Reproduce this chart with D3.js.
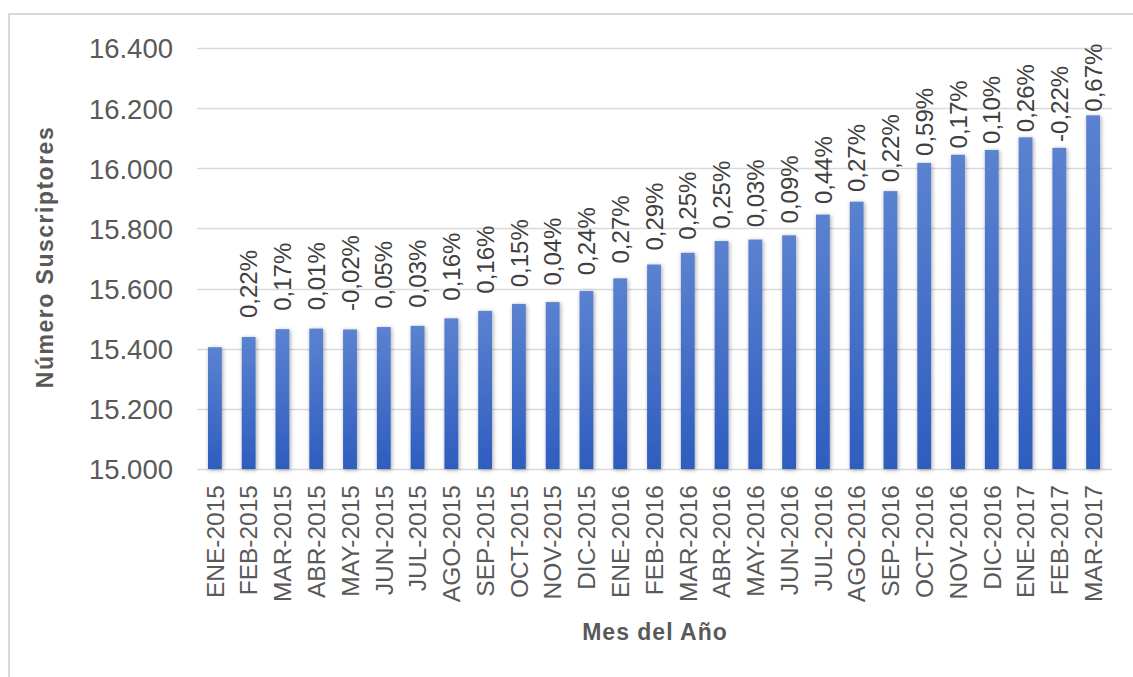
<html>
  <head>
    <meta charset="utf-8">
    <script src="https://d3js.org/d3.v7.min.js"></script>
    <style>
      body { margin: 0; background: #fff; }
    </style>
  </head>
  <body>
    <script>
      var w = 1133;
      var h = 677;

      // datos: mes, suscriptores y variación mensual
      var months = ["ENE-2015","FEB-2015","MAR-2015","ABR-2015","MAY-2015","JUN-2015","JUL-2015",
        "AGO-2015","SEP-2015","OCT-2015","NOV-2015","DIC-2015","ENE-2016","FEB-2016","MAR-2016",
        "ABR-2016","MAY-2016","JUN-2016","JUL-2016","AGO-2016","SEP-2016","OCT-2016","NOV-2016",
        "DIC-2016","ENE-2017","FEB-2017","MAR-2017"];
      var subscribers = [15405,15439,15465,15467,15464,15472,15476,15501,15526,15549,15555,15592,
        15634,15680,15719,15758,15763,15777,15846,15889,15924,16018,16045,16061,16103,16068,16176];
      var changes = ["","0,22%","0,17%","0,01%","-0,02%","0,05%","0,03%","0,16%","0,16%","0,15%",
        "0,04%","0,24%","0,27%","0,29%","0,25%","0,25%","0,03%","0,09%","0,44%","0,27%","0,22%",
        "0,59%","0,17%","0,10%","0,26%","-0,22%","0,67%"];
      var yTicks = [15000,15200,15400,15600,15800,16000,16200,16400];

      var svg = d3.select("body").append("svg")
        .attr("width", w)
        .attr("height", h);

      var defs = svg.append("defs");
      var grad = defs.append("linearGradient")
        .attr("id", "barGrad")
        .attr("x1", 0).attr("y1", 0).attr("x2", 0).attr("y2", 1);
      grad.append("stop").attr("offset", "0%").attr("stop-color", "#5b82d0");
      grad.append("stop").attr("offset", "100%").attr("stop-color", "#2e5dbf");

      var shadow = defs.append("filter")
        .attr("id", "shadow")
        .attr("x", "-60%").attr("y", "-10%")
        .attr("width", "220%").attr("height", "120%");
      shadow.append("feDropShadow")
        .attr("dx", 1).attr("dy", 1)
        .attr("stdDeviation", 2.2)
        .attr("flood-color", "#000")
        .attr("flood-opacity", 0.35);

      // marco
      svg.append("rect")
        .attr("x", 9).attr("y", 14)
        .attr("width", 1300).attr("height", 800)
        .attr("fill", "none")
        .attr("stroke", "#d9d9d9")
        .attr("stroke-width", 2);

      var x = d3.scaleBand()
        .domain(months)
        .range([198, 1110])
        .paddingInner(0.59)
        .paddingOuter(0.295);

      var y = d3.scaleLinear()
        .domain([15000, 16400])
        .range([469, 48]);

      // escala de posición de etiquetas (algo más comprimida que la de barras)
      var yLabel = d3.scaleLinear()
        .domain([15000, 16400])
        .range([441, 49]);

      // líneas de cuadrícula
      svg.selectAll(".grid")
        .data(yTicks)
        .enter()
        .append("line")
        .attr("class", "grid")
        .attr("x1", 197)
        .attr("x2", 1112)
        .attr("y1", function(d){ return Math.round(y(d)) + 0.5; })
        .attr("y2", function(d){ return Math.round(y(d)) + 0.5; })
        .attr("stroke", "#d9d9d9")
        .attr("stroke-width", 1.3);

      // eje y
      var yAxis = svg.append("g")
        .attr("transform", "translate(173,0)")
        .call(d3.axisLeft(y).tickValues(yTicks).tickSize(0).tickPadding(0)
          .tickFormat(function(d){ return d3.format(",")(d).replace(",", "."); }));
      yAxis.select(".domain").remove();
      yAxis.selectAll("text")
        .attr("font-family", "Liberation Sans, Arial, sans-serif")
        .attr("font-size", 27.5)
        .attr("fill", "#595959")
        .attr("dy", "0.36em");

      // barras
      svg.selectAll(".bar")
        .data(subscribers)
        .enter()
        .append("rect")
        .attr("class", "bar")
        .attr("x", function(d, i){ return x(months[i]); })
        .attr("y", function(d){ return y(d); })
        .attr("width", x.bandwidth())
        .attr("height", function(d){ return y(15000) - y(d); })
        .attr("fill", "url(#barGrad)")
        .attr("filter", "url(#shadow)");

      // etiquetas de variación
      svg.selectAll(".pct")
        .data(subscribers)
        .enter()
        .append("text")
        .attr("class", "pct")
        .attr("transform", function(d, i){
          return "translate(" + (x(months[i]) + x.bandwidth() / 2) + "," + yLabel(d) + ") rotate(-90)";
        })
        .attr("dy", "0.36em")
        .attr("font-family", "Liberation Sans, Arial, sans-serif")
        .attr("font-size", 24)
        .attr("fill", "#404040")
        .text(function(d, i){ return changes[i]; });

      // eje x
      var xAxis = svg.append("g")
        .attr("transform", "translate(0,485)")
        .call(d3.axisBottom(x).tickSize(0).tickPadding(0));
      xAxis.select(".domain").remove();
      xAxis.selectAll("text")
        .attr("font-family", "Liberation Sans, Arial, sans-serif")
        .attr("font-size", 24.5)
        .attr("fill", "#595959")
        .attr("text-anchor", "end")
        .attr("transform", "rotate(-90)")
        .attr("x", 0)
        .attr("y", 0)
        .attr("dy", "0.36em");

      // títulos de ejes
      svg.append("text")
        .attr("x", 655)
        .attr("y", 640)
        .attr("text-anchor", "middle")
        .attr("font-family", "Liberation Sans, Arial, sans-serif")
        .attr("font-weight", "bold")
        .attr("font-size", 23)
        .attr("letter-spacing", 1)
        .attr("fill", "#595959")
        .text("Mes del Año");

      svg.append("text")
        .attr("transform", "translate(53,257) rotate(-90)")
        .attr("text-anchor", "middle")
        .attr("font-family", "Liberation Sans, Arial, sans-serif")
        .attr("font-weight", "bold")
        .attr("font-size", 23)
        .attr("letter-spacing", 1.5)
        .attr("fill", "#595959")
        .text("Número Suscriptores");
    </script>
  </body>
</html>
